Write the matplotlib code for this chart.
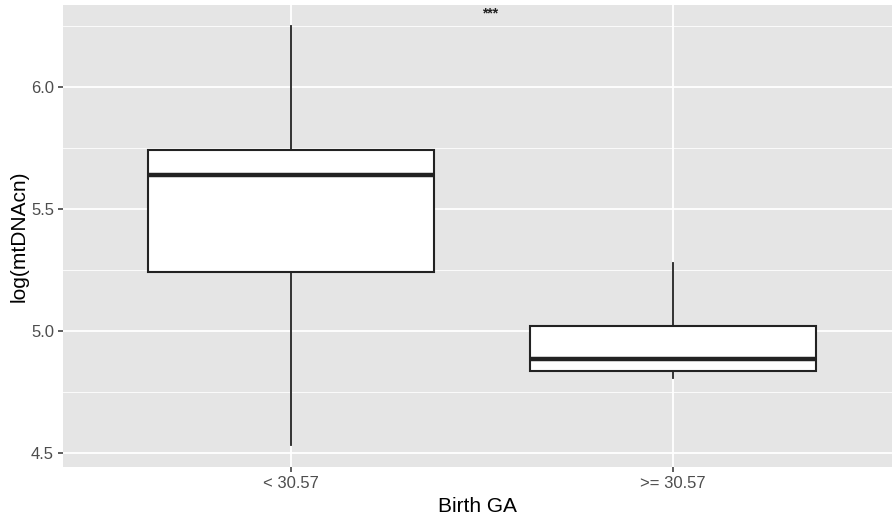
import matplotlib
matplotlib.use("Agg")
import matplotlib.pyplot as plt

plt.rcParams['font.family'] = ['Liberation Sans', 'DejaVu Sans']

# box statistics
groups = ["< 30.57", ">= 30.57"]
whisker_low = [4.533, 4.807]
q1 = [5.242, 4.836]
median = [5.640, 4.885]
q3 = [5.742, 5.020]
whisker_high = [6.250, 5.279]
signif = "***"

stats = []
for i in range(len(groups)):
    stats.append({"whislo": whisker_low[i], "q1": q1[i], "med": median[i],
                  "q3": q3[i], "whishi": whisker_high[i], "fliers": [],
                  "label": groups[i]})

fig = plt.figure(figsize=(8.92, 5.2), dpi=100)
ax = fig.add_axes([0.0706, 0.1019, 0.9294, 0.8885])
ax.set_facecolor("#E5E5E5")

# ggplot-like grid
for y in [4.75, 5.25, 5.75, 6.25]:
    ax.axhline(y, color="white", lw=0.6, zorder=0)
for y in [4.5, 5.0, 5.5, 6.0]:
    ax.axhline(y, color="white", lw=1.3, zorder=0)
for x in [1, 2]:
    ax.axvline(x, color="white", lw=1.3, zorder=0)

ax.bxp(stats, positions=[1, 2], widths=0.75, patch_artist=True, showcaps=False,
       boxprops=dict(facecolor="white", edgecolor="#222222", linewidth=1.5),
       whiskerprops=dict(color="#222222", linewidth=1.3),
       medianprops=dict(color="#222222", linewidth=3.2),
       zorder=3)

ax.text(1.52, 6.30, signif, ha="center", va="center", fontsize=10,
        fontweight="bold", color="#222222")

ax.set_xlim(0.403, 2.573)
ax.set_ylim(4.443, 6.336)
ax.set_yticks([4.5, 5.0, 5.5, 6.0])
ax.set_yticklabels(["4.5", "5.0", "5.5", "6.0"])
ax.set_xticks([1, 2])
ax.set_xticklabels(groups)
ax.tick_params(axis="both", length=3.5, width=1.1, color="#333333",
               labelcolor="#4D4D4D", labelsize=12, pad=3)
for s in ax.spines.values():
    s.set_visible(False)

ax.set_xlabel("Birth GA", fontsize=15, labelpad=4)
ax.set_ylabel("log(mtDNAcn)", fontsize=15, labelpad=2)

fig.savefig("out.png", dpi=100)
